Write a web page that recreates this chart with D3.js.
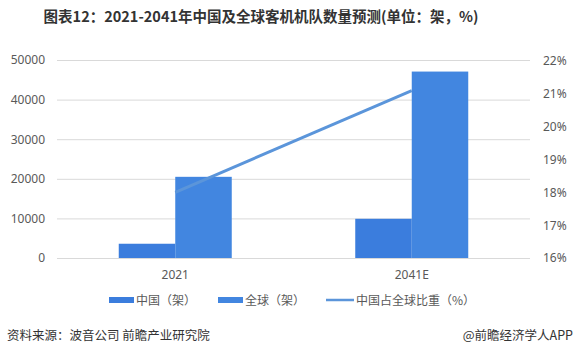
<!DOCTYPE html>
<html><head><meta charset="utf-8">
<script src="https://cdn.jsdelivr.net/npm/d3@7"></script>
<style>body{margin:0;background:#fff;}svg{display:block;font-family:"Noto Sans CJK SC","Microsoft YaHei",sans-serif;}</style>
</head><body>
<svg id="c" width="580" height="363"></svg>
<script>
const categories = ["2021", "2041E"];
const chinaFleet = [3600, 9900];
const globalFleet = [20500, 47080];
const chinaShare = [18.0, 21.1];
const leftTicks = [0, 10000, 20000, 30000, 40000, 50000];
const rightTicks = [16, 17, 18, 19, 20, 21, 22];

const svg = d3.select("#c");
const L = 57, R = 530, T = 60, B = 258;
const x = d3.scaleBand().domain(categories).range([L, R]);
const yL = d3.scaleLinear().domain([0, 50000]).range([B, T]);
const yR = d3.scaleLinear().domain([16, 22]).range([B, 61]);
const barW = 56.5;
const cChina = "#3b7ddd", cGlobal = "#4286e0", cLine = "#5b95da";

svg.append("text").attr("x", 261).attr("y", 22).attr("text-anchor", "middle")
  .attr("font-size", 14.5).attr("font-weight", "bold").attr("fill", "#333")
  .text("图表12：2021-2041年中国及全球客机机队数量预测(单位：架，%)");

// grid
svg.append("g").selectAll("line").data(leftTicks).join("line")
  .attr("x1", L).attr("x2", R).attr("y1", d => yL(d) + 0.5).attr("y2", d => yL(d) + 0.5)
  .attr("stroke", "#d9d9d9").attr("stroke-width", 1);

// left axis
const gl = svg.append("g").attr("transform", `translate(${L - 12},0)`)
  .call(d3.axisLeft(yL).tickValues(leftTicks).tickSize(0).tickPadding(0).tickFormat(d3.format("d")));
gl.select(".domain").remove();
gl.selectAll("text").attr("font-size", 12).attr("fill", "#595959").attr("font-family", "Noto Sans, sans-serif");

// right axis
const gr = svg.append("g").attr("transform", `translate(${R + 13},0)`)
  .call(d3.axisRight(yR).tickValues(rightTicks).tickSize(0).tickPadding(0).tickFormat(d => d + "%"));
gr.select(".domain").remove();
gr.selectAll("text").attr("font-size", 12).attr("fill", "#595959").attr("font-family", "Noto Sans, sans-serif");

// bars
const bars = svg.append("g");
bars.selectAll("rect.cn").data(categories).join("rect").attr("class", "cn")
  .attr("x", d => x(d) + x.bandwidth() / 2 - barW)
  .attr("width", barW)
  .attr("y", (d, i) => yL(chinaFleet[i]))
  .attr("height", (d, i) => B - yL(chinaFleet[i]))
  .attr("fill", cChina);
bars.selectAll("rect.gl").data(categories).join("rect").attr("class", "gl")
  .attr("x", d => x(d) + x.bandwidth() / 2)
  .attr("width", barW)
  .attr("y", (d, i) => yL(globalFleet[i]))
  .attr("height", (d, i) => B - yL(globalFleet[i]))
  .attr("fill", cGlobal);

// line
const line = d3.line().x((d, i) => x(categories[i]) + x.bandwidth() / 2).y(d => yR(d));
svg.append("path").datum(chinaShare).attr("d", line)
  .attr("fill", "none").attr("stroke", cLine).attr("stroke-width", 3).attr("stroke-linecap", "butt");

// x labels
svg.append("g").selectAll("text").data(categories).join("text")
  .attr("x", d => x(d) + x.bandwidth() / 2).attr("y", 279).attr("text-anchor", "middle")
  .attr("font-size", 12).attr("fill", "#595959").attr("font-family", "Noto Sans, sans-serif")
  .text(d => d);

// legend
const lg = svg.append("g").attr("font-size", 12).attr("fill", "#595959");
const legendItems = [
  {label: "中国（架）", type: "rect", color: cChina, x: 109},
  {label: "全球（架）", type: "rect", color: cGlobal, x: 218},
  {label: "中国占全球比重（%）", type: "line", color: cLine, x: 326}
];
legendItems.forEach(it => {
  if (it.type === "rect") {
    lg.append("rect").attr("x", it.x).attr("y", 297).attr("width", 25).attr("height", 6).attr("fill", it.color);
  } else {
    lg.append("line").attr("x1", it.x).attr("x2", it.x + 28).attr("y1", 300).attr("y2", 300)
      .attr("stroke", it.color).attr("stroke-width", 2.5);
  }
  lg.append("text").attr("x", it.x + (it.type === "rect" ? 27 : 30)).attr("y", 304.5).attr("fill", "#595959").text(it.label);
});

// footer
svg.append("text").attr("x", 7).attr("y", 340).attr("font-size", 12.5).attr("fill", "#333").text("资料来源：波音公司 前瞻产业研究院");
svg.append("text").attr("x", 573).attr("y", 340).attr("text-anchor", "end").attr("font-size", 12.5).attr("fill", "#333").text("@前瞻经济学人APP");
</script>
</body></html>
